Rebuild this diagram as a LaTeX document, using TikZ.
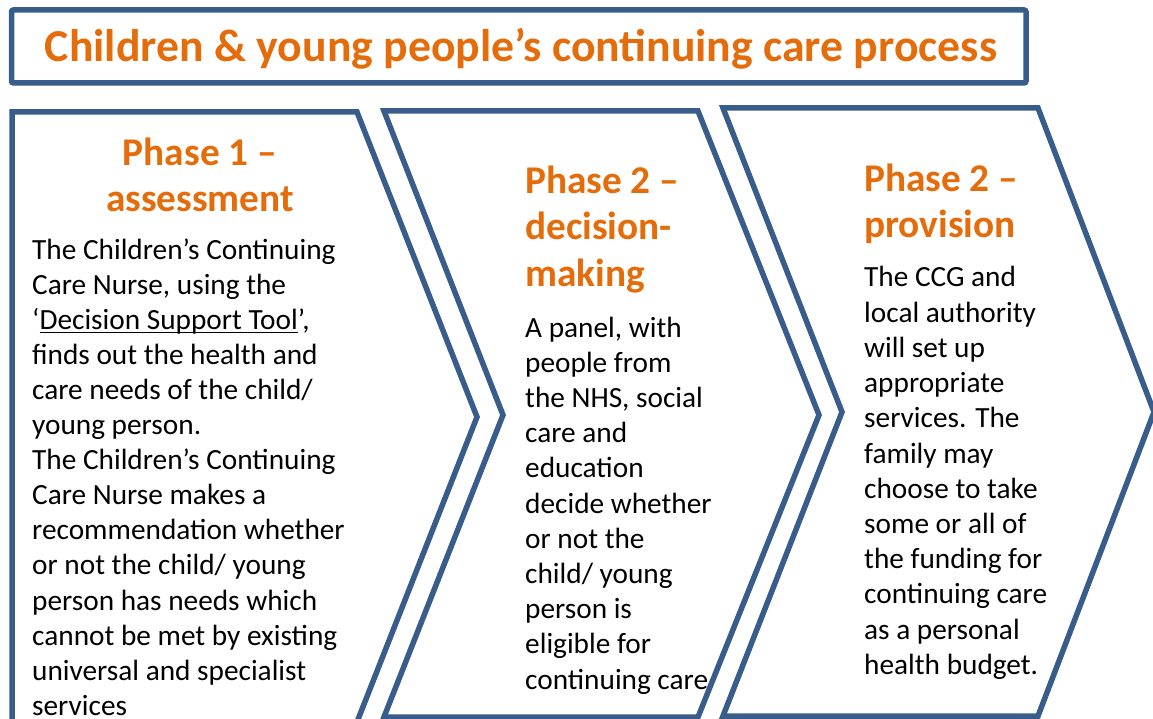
\documentclass[tikz,border=0pt]{standalone}
\usepackage{fontspec}
\setmainfont{Carlito}
\usetikzlibrary{positioning}
\definecolor{CareBlue}{HTML}{385D8A}
\definecolor{CareOrange}{HTML}{E46C0A}
% underline for the link text, thick enough at this size
\newcommand\linkul[1]{\setbox0\hbox{#1}\rlap{\rule[-4pt]{\wd0}{1.6pt}}\box0}

\begin{document}
\begin{tikzpicture}[x=1pt,y=-1pt,
  outline/.style={draw=CareBlue,line width=5.5pt,line join=miter},
  titletext/.style={font=\bfseries\fontsize{45.7}{54}\selectfont,text=CareOrange,inner sep=0pt,anchor=base},
  heading/.style={font=\bfseries\fontsize{39.3}{46}\selectfont,text=CareOrange,inner sep=0pt},
  body/.style={font=\fontsize{29.3}{35.2}\selectfont,inner sep=0pt,anchor=base west}]
\useasboundingbox (0,0) rectangle (1153,719);
% title box
\draw[outline,rounded corners=2pt](11.5,10) rectangle (1026,83);
\node[titletext](title) at (521,62){Children \& young people’s continuing care process};
% the three chevrons
\draw[outline](12,112)--(357,112)--(477,417)--(357,722)--(12,722)--cycle;
\draw[outline](384,111)--(698,111)--(819,415)--(698,717)--(384,717)--(503,415)--cycle;
\draw[outline](723,108)--(1038,108)--(1154,412)--(1038,716)--(723,716)--(842,412)--cycle;
% phase 1
\foreach \txt [count=\i from 0] in {Phase 1 –,assessment}{
\node[heading,anchor=base](assesshead-\i) at (200,166+46*\i){\txt};}
\foreach \txt [count=\i from 0] in {The Children’s Continuing,{Care Nurse, using the},
  {‘\linkul{Decision Support Tool}’,},finds out the health and,care needs of the child/,
  young person.,The Children’s Continuing,Care Nurse makes a,recommendation whether,
  or not the child/ young,person has needs which,cannot be met by existing,
  universal and specialist,services}{
\node[body](assess-\i) at (32,259+35.1*\i){\txt};}
% phase 2
\foreach \txt [count=\i from 0] in {Phase 2 –,decision-,making}{
\node[heading,anchor=base west](decidehead-\i) at (525,194+46*\i){\txt};}
\foreach \txt [count=\i from 0] in {{A panel, with},people from,{the NHS, social},care and,
  education,decide whether,or not the,child/ young,person is,eligible for,continuing care}{
\node[body](decide-\i) at (525,337+35.2*\i){\txt};}
% phase 3
\foreach \txt [count=\i from 0] in {Phase 2 –,provision}{
\node[heading,anchor=base west](providehead-\i) at (864,192+46*\i){\txt};}
\foreach \txt [count=\i from 0] in {The CCG and,local authority,will set up,appropriate,
  services. The,family may,choose to take,some or all of,the funding for,continuing care,
  as a personal,health budget.}{
\node[body](provide-\i) at (864,287+35.2*\i){\txt};}
\end{tikzpicture}
\end{document}
